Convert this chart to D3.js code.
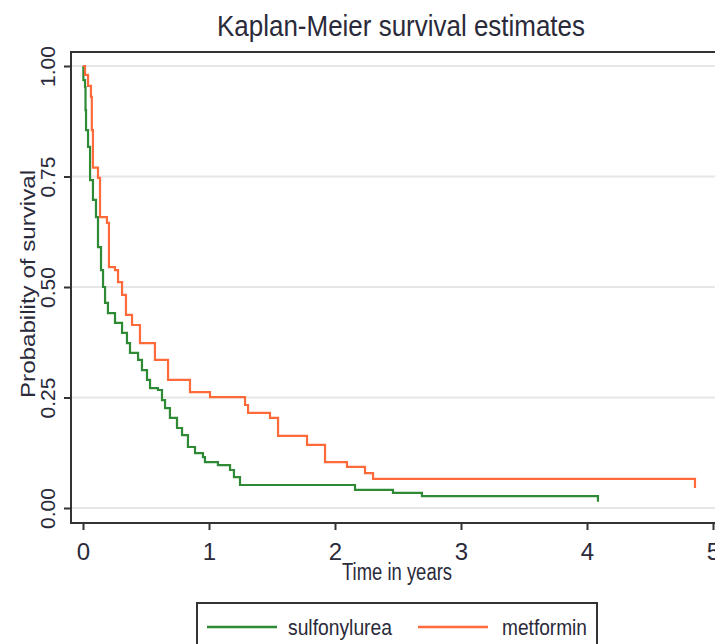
<!DOCTYPE html>
<html>
<head>
<meta charset="utf-8">
<script src="https://cdn.jsdelivr.net/npm/d3@7"></script>
<style>
    html, body { margin: 0; padding: 0; background: #fff; overflow: hidden; }
    svg { display: block; }
    text { font-family: "Liberation Sans Narrow", "Arial Narrow", "Liberation Sans", Arial, sans-serif; fill: #2a2a3a; }
</style>
</head>
<body>
<script>
// Kaplan-Meier step curves (time in years, survival after the step)
const groups = ["sulfonylurea", "metformin"];

const sulfTime = [0, 0.003, 0.016, 0.02, 0.024, 0.04, 0.056, 0.079, 0.103, 0.119, 0.143, 0.159, 0.175,
    0.198, 0.254, 0.31, 0.349, 0.373, 0.437, 0.468, 0.508, 0.532, 0.595, 0.627, 0.651, 0.69, 0.746,
    0.786, 0.833, 0.889, 0.952, 0.968, 1.071, 1.167, 1.198, 1.246, 2.159, 2.46, 2.69, 4.087];
const sulfSurv = [1.0, 0.968, 0.952, 0.9, 0.855, 0.817, 0.742, 0.697, 0.658, 0.59, 0.538, 0.5, 0.464,
    0.441, 0.419, 0.396, 0.373, 0.351, 0.335, 0.312, 0.29, 0.271, 0.267, 0.244, 0.226, 0.204, 0.181,
    0.165, 0.138, 0.124, 0.115, 0.104, 0.097, 0.086, 0.07, 0.052, 0.041, 0.034, 0.027, 0.014];

const metTime = [0, 0.016, 0.04, 0.063, 0.07, 0.079, 0.119, 0.135, 0.19, 0.206, 0.254, 0.278, 0.31,
    0.341, 0.389, 0.452, 0.571, 0.675, 0.849, 1.008, 1.286, 1.31, 1.484, 1.548, 1.778, 1.921, 2.095,
    2.238, 2.302, 4.857];
const metSurv = [1.0, 0.98, 0.955, 0.93, 0.855, 0.77, 0.747, 0.658, 0.645, 0.545, 0.538, 0.511, 0.482,
    0.437, 0.414, 0.373, 0.335, 0.29, 0.262, 0.251, 0.233, 0.215, 0.204, 0.163, 0.143, 0.104, 0.093,
    0.079, 0.066, 0.045];

const yTicks = [0, 0.25, 0.5, 0.75, 1];
const xTicks = [0, 1, 2, 3, 4, 5];

const colors = {
    sulfonylurea: "#2f8a36",
    metformin: "#ff6a3a",
};

const width = 715;
const height = 644;

const frame = {
    left: 71,
    top: 52,
    bottom: 523,
    right: 720,
};

const x = d3.scaleLinear().domain([0, 5]).range([83, 713]);
const y = d3.scaleLinear().domain([0, 1]).range([508, 66]);

const svg = d3.select(document.body).append("svg")
    .attr("width", width)
    .attr("height", height);

// title
svg.append("text")
    .text("Kaplan-Meier survival estimates")
    .attr("x", 401)
    .attr("y", 36)
    .attr("text-anchor", "middle")
    .attr("textLength", 368)
    .attr("lengthAdjust", "spacingAndGlyphs")
    .style("font-size", "30px");

// grid lines
svg.append("g")
    .selectAll("line")
    .data(yTicks)
    .join("line")
    .attr("x1", frame.left)
    .attr("x2", frame.right)
    .attr("y1", d => y(d))
    .attr("y2", d => y(d))
    .attr("stroke", "#e6e6e6")
    .attr("stroke-width", 2);

// y axis
const yAxis = svg.append("g")
    .attr("transform", `translate(${frame.left},0)`)
    .call(d3.axisLeft(y).tickValues(yTicks).tickFormat(d3.format(".2f")).tickSize(7));
yAxis.select(".domain").remove();
yAxis.selectAll(".tick line").attr("stroke", "#333").attr("stroke-width", 2);
yAxis.selectAll(".tick text")
    .attr("transform", "rotate(-90)")
    .attr("x", 0)
    .attr("y", -16)
    .attr("dy", 0)
    .attr("text-anchor", "middle")
    .attr("fill", "#2a2a3a")
    .style("font-size", "21px");

// x axis
const xAxis = svg.append("g")
    .attr("transform", `translate(0,${frame.bottom})`)
    .call(d3.axisBottom(x).tickValues(xTicks).tickFormat(d3.format("d")).tickSize(7));
xAxis.select(".domain").remove();
xAxis.selectAll(".tick line").attr("stroke", "#333").attr("stroke-width", 2);
xAxis.selectAll(".tick text")
    .attr("y", 37)
    .attr("dy", 0)
    .attr("fill", "#2a2a3a")
    .style("font-size", "24px");

// frame: left axis, bottom axis, top outline
svg.append("path")
    .attr("d", `M${frame.right},${frame.top}H${frame.left}V${frame.bottom}H${frame.right}`)
    .attr("fill", "none")
    .attr("stroke", "#333")
    .attr("stroke-width", 2);

// axis titles
svg.append("text")
    .text("Probability of survival")
    .attr("transform", "translate(35,284) rotate(-90)")
    .attr("text-anchor", "middle")
    .attr("textLength", 228)
    .attr("lengthAdjust", "spacingAndGlyphs")
    .style("font-size", "21px");

svg.append("text")
    .text("Time in years")
    .attr("x", 397)
    .attr("y", 580)
    .attr("text-anchor", "middle")
    .attr("textLength", 110)
    .attr("lengthAdjust", "spacingAndGlyphs")
    .style("font-size", "23px");

// survival curves
const line = d3.line()
    .x(d => x(d[0]))
    .y(d => y(d[1]))
    .curve(d3.curveStepAfter);

const series = [
    ["sulfonylurea", d3.zip(sulfTime, sulfSurv)],
    ["metformin", d3.zip(metTime, metSurv)],
];

svg.append("g")
    .selectAll("path")
    .data(series)
    .join("path")
    .attr("d", d => line(d[1]))
    .attr("fill", "none")
    .attr("stroke", d => colors[d[0]])
    .attr("stroke-width", 2.2)
    .attr("stroke-linejoin", "miter");

// legend
const legend = svg.append("g");
legend.append("rect")
    .attr("x", 197)
    .attr("y", 603)
    .attr("width", 400)
    .attr("height", 60)
    .attr("fill", "#fff")
    .attr("stroke", "#333")
    .attr("stroke-width", 2);

const legendItems = [
    {name: groups[0], lx: 207, tx: 288, tl: 104},
    {name: groups[1], lx: 418, tx: 502, tl: 85},
];
legendItems.forEach(item => {
    legend.append("line")
        .attr("x1", item.lx)
        .attr("x2", item.lx + 70)
        .attr("y1", 627)
        .attr("y2", 627)
        .attr("stroke", colors[item.name])
        .attr("stroke-width", 2.5);
    legend.append("text")
        .text(item.name)
        .attr("x", item.tx)
        .attr("y", 635)
        .attr("textLength", item.tl)
        .attr("lengthAdjust", "spacingAndGlyphs")
        .style("font-size", "22px");
});
</script>
</body>
</html>
